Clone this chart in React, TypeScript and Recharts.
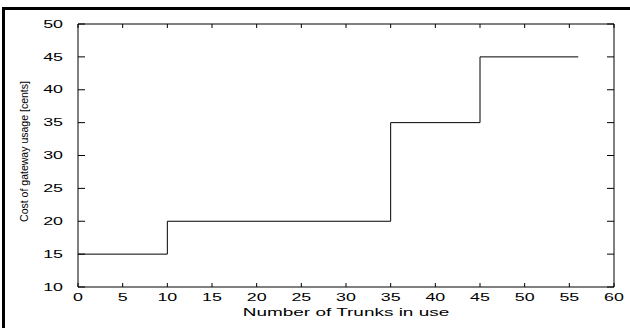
import React from 'react';
import { LineChart, Line, XAxis, YAxis } from 'recharts';

// step points: cost changes at 10, 35 and 45 trunks
const trunks = [0, 10, 35, 45, 56];
const cost = [15, 20, 35, 45, 45];

const xTicks = [0, 5, 10, 15, 20, 25, 30, 35, 40, 45, 50, 55, 60];
const yTicks = [10, 15, 20, 25, 30, 35, 40, 45, 50];

const xLabel = 'Number of Trunks in use';
const yLabel = 'Cost of gateway usage [cents]';

const chartData = trunks.map((t, i) => ({ trunks: t, cost: cost[i] }));

const FONT = '"Liberation Sans", Arial, Helvetica, sans-serif';
const STRETCH = 1.7;

const BottomTick = ({ x, y, payload }: any) => (
  <g>
    <line x1={x} y1={y} x2={x} y2={y - 4} stroke="#000" />
    <text
      transform={`translate(${x},${y + 14}) scale(${STRETCH},1)`}
      textAnchor="middle"
      fontSize={10.5}
      fontFamily={FONT}
      fill="#000"
    >
      {payload.value}
    </text>
  </g>
);

const TopTick = ({ x, y }: any) => (
  <line x1={x} y1={y} x2={x} y2={y + 4} stroke="#000" />
);

const LeftTick = ({ x, y, payload }: any) => (
  <g>
    <line x1={x} y1={y} x2={x + 7} y2={y} stroke="#000" />
    <text
      transform={`translate(${x - 15},${y + 3.7}) scale(${STRETCH},1)`}
      textAnchor="end"
      fontSize={10.5}
      fontFamily={FONT}
      fill="#000"
    >
      {payload.value}
    </text>
  </g>
);

const RightTick = ({ x, y }: any) => (
  <line x1={x} y1={y} x2={x - 7} y2={y} stroke="#000" />
);

const XAxisTitle = ({ viewBox }: any) => (
  <text
    transform={`translate(${viewBox.x + viewBox.width / 2},${viewBox.y + 28.7}) scale(1.65,1)`}
    textAnchor="middle"
    fontSize={11.5}
    fontFamily={FONT}
    fill="#000"
  >
    {xLabel}
  </text>
);

const YAxisTitle = ({ viewBox }: any) => (
  <text
    transform={`translate(${viewBox.x + 10},${viewBox.y + viewBox.height / 2 - 4}) rotate(-90) scale(0.94,1)`}
    textAnchor="middle"
    fontSize={11.2}
    fontFamily={FONT}
    fill="#000"
  >
    {yLabel}
  </text>
);

export default function App() {
  return (
    <div
      style={{
        position: 'absolute',
        left: 0,
        top: 0,
        width: 630,
        height: 328,
        overflow: 'hidden',
        background: '#fff',
      }}
    >
      <div
        style={{
          position: 'absolute',
          left: 2,
          top: 7,
          width: 640,
          height: 340,
          borderLeft: '3px solid #000',
          borderTop: '3px solid #000',
        }}
      />
      <div style={{ position: 'absolute', left: 0, top: 0 }}>
        <LineChart
          width={630}
          height={328}
          data={chartData}
          margin={{ top: 23, right: 15, bottom: 1, left: 18 }}
        >
          <XAxis
            dataKey="trunks"
            type="number"
            domain={[0, 60]}
            ticks={xTicks}
            interval={0}
            height={40}
            stroke="#000"
            tickSize={0}
            tickMargin={0}
            tickLine={false}
            tick={<BottomTick />}
            label={{ value: xLabel, content: <XAxisTitle /> }}
          />
          <XAxis
            xAxisId="top"
            dataKey="trunks"
            orientation="top"
            type="number"
            domain={[0, 60]}
            ticks={xTicks}
            interval={0}
            height={1}
            stroke="#000"
            tickSize={0}
            tickMargin={0}
            tickLine={false}
            tick={<TopTick />}
          />
          <YAxis
            type="number"
            domain={[10, 50]}
            ticks={yTicks}
            interval={0}
            width={60}
            stroke="#000"
            tickSize={0}
            tickMargin={0}
            tickLine={false}
            tick={<LeftTick />}
            label={{ value: yLabel, content: <YAxisTitle /> }}
          />
          <YAxis
            yAxisId="right"
            orientation="right"
            type="number"
            domain={[10, 50]}
            ticks={yTicks}
            interval={0}
            width={1}
            stroke="#000"
            tickSize={0}
            tickMargin={0}
            tickLine={false}
            tick={<RightTick />}
          />
          {/* invisible twin series so the mirrored top/right axes are drawn */}
          <Line
            xAxisId="top"
            yAxisId="right"
            type="stepAfter"
            dataKey="cost"
            stroke="none"
            dot={false}
            activeDot={false}
            isAnimationActive={false}
          />
          <Line
            type="stepAfter"
            dataKey="cost"
            stroke="#000"
            strokeWidth={1}
            dot={false}
            isAnimationActive={false}
          />
        </LineChart>
      </div>
    </div>
  );
}
